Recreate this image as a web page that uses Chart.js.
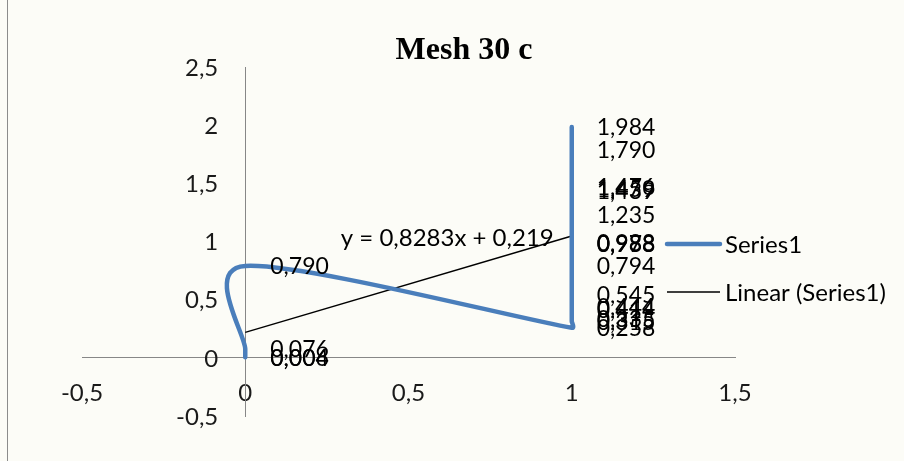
<!DOCTYPE html>
<html>
<head>
<meta charset="utf-8">
<script src="https://cdn.jsdelivr.net/npm/chart.js@4.4.1/dist/chart.umd.min.js"></script>
<style>
  html, body { margin: 0; padding: 0; background: #fcfcf7; }
  #wrap { width: 904px; height: 461px; }
</style>
</head>
<body>
<div id="wrap"><canvas id="c" width="904" height="461"></canvas></div>
<script>
// ---- data ----
const chartTitle = 'Mesh 30 c';
const seriesName = 'Series1';
const trendName = 'Linear (Series1)';
const seriesX = [0, 0, 0, 0, 1, 1, 1, 1, 1, 1, 1, 1, 1, 1, 1, 1, 1, 1, 1, 1];
const seriesY = [0.004, 0.006, 0.076, 0.790, 0.258, 0.315, 0.335, 0.414, 0.444, 0.545, 0.794, 0.978, 0.983, 0.988, 1.235, 1.439, 1.459, 1.476, 1.790, 1.984];
const trendSlope = 0.8283;
const trendIntercept = 0.219;
const trendRangeX = [0, 1];
const xTicks = [-0.5, 0, 0.5, 1, 1.5];
const yTicks = [-0.5, 0, 0.5, 1, 1.5, 2, 2.5];

const comma = (v, d) => (d === undefined ? String(v) : v.toFixed(d)).replace('.', ',');

const seriesPoints = seriesX.map((x, i) => ({ x: x, y: seriesY[i] }));
const trendPoints = trendRangeX.map(x => ({ x: x, y: trendSlope * x + trendIntercept }));

const FONT = 'Lato, "Open Sans", sans-serif';

// Excel-style smoothing: uniform Catmull-Rom (1/6) with control arms limited to half the segment
const excelSmooth = {
  id: 'excelSmooth',
  beforeDatasetDraw(chart, args) {
    if (args.index !== 0) return;
    const meta = args.meta;
    const pts = meta.data;
    const n = pts.length;
    const d = (a, b) => Math.hypot(a.x - b.x, a.y - b.y);
    for (let i = 0; i < n - 1; i++) {
      const p0 = pts[Math.max(i - 1, 0)], p1 = pts[i], p2 = pts[i + 1], p3 = pts[Math.min(i + 2, n - 1)];
      const d12 = d(p1, p2);
      const d02 = d(p0, p2), d13 = d(p1, p3);
      const fa = d02 > 0 ? Math.min(1 / 6, 0.5 * d12 / d02) : 0;
      const fb = d13 > 0 ? Math.min(1 / 6, 0.5 * d12 / d13) : 0;
      p1.cp2x = p1.x + fa * (p2.x - p0.x);
      p1.cp2y = p1.y + fa * (p2.y - p0.y);
      p2.cp1x = p2.x - fb * (p3.x - p1.x);
      p2.cp1y = p2.y - fb * (p3.y - p1.y);
    }
    pts[0].cp1x = pts[0].x; pts[0].cp1y = pts[0].y;
    pts[n - 1].cp2x = pts[n - 1].x; pts[n - 1].cp2y = pts[n - 1].y;
    meta.dataset._pointsUpdated = true;
    meta.dataset._path = undefined;
  }
};

const decorPlugin = {
  id: 'decor',
  beforeDraw(chart) {
    const ctx = chart.ctx;
    ctx.save();
    ctx.fillStyle = '#fcfcf7';
    ctx.fillRect(0, 0, chart.width, chart.height);
    ctx.strokeStyle = '#8c8c8c';
    ctx.lineWidth = 1;
    ctx.beginPath();
    ctx.moveTo(7.5, 0);
    ctx.lineTo(7.5, chart.height);
    ctx.stroke();
    ctx.restore();
  },
  afterDraw(chart) {
    const ctx = chart.ctx;
    ctx.save();
    // title
    ctx.fillStyle = '#000';
    ctx.font = 'bold 32px "Liberation Serif", "Times New Roman", serif';
    ctx.textAlign = 'center';
    ctx.textBaseline = 'alphabetic';
    ctx.fillText(chartTitle, 464, 59);

    // y tick labels (placed left of the y axis, which crosses at x = 0)
    const xs = chart.scales.x, ys = chart.scales.y;
    const axisX = xs.getPixelForValue(0);
    ctx.font = '24px ' + FONT;
    ctx.fillStyle = '#1a1a1a';
    ctx.textAlign = 'right';
    ctx.textBaseline = 'middle';
    ys.ticks.forEach(t => {
      ctx.fillText(comma(t.value), axisX - 27, ys.getPixelForValue(t.value) + 1);
    });

    // data labels for series
    const meta = chart.getDatasetMeta(0);
    ctx.fillStyle = '#000';
    ctx.font = '23px ' + FONT;
    ctx.textAlign = 'left';
    ctx.textBaseline = 'middle';
    meta.data.forEach((pt, i) => {
      ctx.fillText(comma(seriesY[i], 3), pt.x + 25, pt.y + 1);
    });

    // trendline equation
    const tmeta = chart.getDatasetMeta(1);
    const end = tmeta.data[tmeta.data.length - 1];
    ctx.textAlign = 'right';
    ctx.font = '24px ' + FONT;
    ctx.fillText('y = ' + comma(trendSlope, 4) + 'x + ' + comma(trendIntercept, 3), end.x - 18, end.y + 2);

    // legend
    const ds = chart.data.datasets;
    const items = [{ y: 244, ds: ds[0] }, { y: 292, ds: ds[1] }];
    ctx.font = '24px ' + FONT;
    items.forEach(it => {
      ctx.strokeStyle = it.ds.borderColor;
      ctx.lineWidth = it.ds.borderWidth;
      ctx.lineCap = it.ds === ds[0] ? 'round' : 'butt';
      ctx.beginPath();
      ctx.moveTo(667, it.y);
      ctx.lineTo(720, it.y);
      ctx.stroke();
      ctx.fillStyle = '#000';
      ctx.textAlign = 'left';
      ctx.textBaseline = 'middle';
      ctx.fillText(it.ds.label, 725, it.y + 1);
    });
    ctx.restore();
  }
};

new Chart(document.getElementById('c'), {
  type: 'scatter',
  data: {
    datasets: [
      {
        label: seriesName,
        data: seriesPoints,
        showLine: true,
        borderColor: '#4a7ebb',
        borderWidth: 4.5,
        tension: 0.4,
        pointRadius: 0,
        borderCapStyle: 'round',
        borderJoinStyle: 'round'
      },
      {
        label: trendName,
        data: trendPoints,
        showLine: true,
        borderColor: '#000000',
        borderWidth: 1.5,
        tension: 0,
        pointRadius: 0
      }
    ]
  },
  options: {
    responsive: false,
    devicePixelRatio: 1,
    animation: false,
    layout: { padding: { left: 82, top: 67, right: 169, bottom: 45 } },
    plugins: {
      legend: { display: false },
      title: { display: false },
      tooltip: { enabled: false }
    },
    scales: {
      x: {
        type: 'linear',
        position: { y: 0 },
        min: xTicks[0],
        max: xTicks[xTicks.length - 1],
        afterBuildTicks: s => { s.ticks = xTicks.map(v => ({ value: v })); },
        grid: { display: false },
        border: { display: true, color: '#878787', width: 1 },
        ticks: {
          color: '#1a1a1a',
          font: { family: FONT, size: 24 },
          padding: 13,
          maxRotation: 0,
          callback: v => comma(v)
        }
      },
      y: {
        type: 'linear',
        position: { x: 0 },
        min: yTicks[0],
        max: yTicks[yTicks.length - 1],
        afterBuildTicks: s => { s.ticks = yTicks.map(v => ({ value: v })); },
        grid: { display: false },
        border: { display: true, color: '#878787', width: 1 },
        ticks: { display: false }
      }
    }
  },
  plugins: [excelSmooth, decorPlugin]
});
</script>
</body>
</html>
